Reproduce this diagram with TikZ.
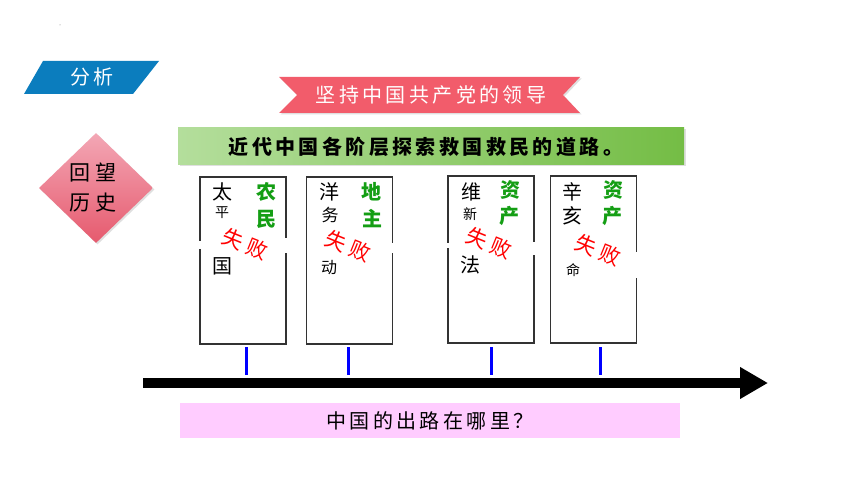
\documentclass[tikz,border=0pt]{standalone}
\usepackage{fontspec}
\newfontfamily\cjk{Noto Sans CJK SC}
\usetikzlibrary{shapes.geometric,shadows,arrows.meta}
\definecolor{bluetag}{HTML}{0B7DBE}
\definecolor{redban}{HTML}{F25C6B}
\definecolor{greenL}{HTML}{B4DE9C}
\definecolor{greenR}{HTML}{74BD45}
\definecolor{pinkq}{HTML}{FFCCFF}
\definecolor{diaT}{HTML}{F3A7B5}
\definecolor{diaB}{HTML}{E65A6E}
\definecolor{agreen}{HTML}{149E14}
\definecolor{boxline}{HTML}{333333}
\tikzset{
  big/.style={font=\cjk\fontsize{20}{20}\selectfont, inner sep=0pt},
  small/.style={font=\cjk\fontsize{14}{14}\selectfont, inner sep=0pt},
  mid/.style={font=\cjk\fontsize{16}{16}\selectfont, inner sep=0pt},
  gr/.style={font=\cjk\bfseries\fontsize{20}{20}\selectfont, text=agreen, inner sep=0pt},
  fail/.style={font=\cjk\fontsize{21}{21}\selectfont, text=red, inner sep=0pt, rotate=-22},
  eventbox/.style={draw=boxline, line width=1.3pt, fill=white, minimum width=86pt, minimum height=167pt, inner sep=0pt},
  tick/.style={draw=blue, line width=3pt},
  gap/.style={draw=white, line width=3pt},
  spaced/.style={font=\cjk\fontsize{20}{20}\selectfont\addfontfeature{LetterSpace=17}},
  shade/.style={drop shadow={shadow xshift=1.5pt, shadow yshift=-1.5pt, opacity=0.25}}
}
\begin{document}
\begin{tikzpicture}[x=1pt,y=-1pt]
\useasboundingbox (0,0) rectangle (860,484);
\fill[white] (0,0) rectangle (860,484);
\fill[gray] (60,25) circle (0.5pt);
% analysis tag
\fill[bluetag] (24,94) -- (43,61) -- (159,61) -- (133,94) -- cycle;
\node[font=\cjk\fontsize{20}{20}\selectfont\addfontfeature{LetterSpace=15}, text=white] (tag) at (92,77) {分析};
% diamond
\node[diamond, aspect=1, minimum width=114pt, minimum height=110pt, inner sep=0pt, top color=diaT, bottom color=diaB, shade] (dia) at (96,188) {};
\node[font=\cjk\fontsize{21}{21}\selectfont, inner sep=0pt] (dia1) at (93,173) {回\hspace{5pt}望};
\node[font=\cjk\fontsize{21}{21}\selectfont, inner sep=0pt] (dia2) at (93,203) {历\hspace{5pt}史};
% banner
\fill[redban, shade] (279,77) -- (580,77) -- (563,95) -- (580,113) -- (279,113) -- (297,95) -- cycle;
\node[spaced, text=white] (ban) at (431,95) {坚持中国共产党的领导};
% green bar
\node[left color=greenL, right color=greenR, minimum width=506pt, minimum height=37pt, inner sep=0pt, shade] (bar) at (431,146.5) {};
\node[font=\cjk\bfseries\fontsize{20}{20}\selectfont\addfontfeature{LetterSpace=17}] (bartext) at (426,147) {近代中国各阶层探索救国救民的道路。};
% boxes
\node[eventbox] (b1) at (243,260.5) {};
\node[eventbox] (b2) at (349.5,260.5) {};
\node[eventbox] (b3) at (491,259.5) {};
\node[eventbox] (b4) at (593.5,259.5) {};
% box 1
\node[big] (t1a) at (222,192) {太};
\node[small] (t1b) at (222,213) {平};
\node[big] (t1c) at (222,266) {国};
\node[gr] (g1a) at (266,192) {农};
\node[gr] (g1b) at (266,219) {民};
% box 2
\node[big] (t2a) at (329,192) {洋};
\node[big, font=\cjk\fontsize{17}{17}\selectfont] (t2b) at (330,215) {务};
\node[mid] (t2c) at (329,268) {动};
\node[gr] (g2a) at (371,192) {地};
\node[gr] (g2b) at (372,219) {主};
% box 3
\node[big] (t3a) at (471,192) {维};
\node[small] (t3b) at (470,214) {新};
\node[big] (t3c) at (470,265) {法};
\node[gr] (g3a) at (510,190) {资};
\node[gr] (g3b) at (509,216) {产};
% box 4
\node[big] (t4a) at (572,192) {辛};
\node[big] (t4b) at (572,216) {亥};
\node[small] (t4c) at (573,270) {命};
\node[gr] (g4a) at (613,190) {资};
\node[gr] (g4b) at (612,216) {产};
% border gaps
\draw[gap] (b1.west |- 0,241) -- (b1.west |- 0,249);
\draw[gap] (b1.east |- 0,238) -- (b1.east |- 0,253);
\draw[gap] (b2.east |- 0,243) -- (b2.east |- 0,253);
\draw[gap] (b3.west |- 0,243) -- (b3.west |- 0,248);
\draw[gap] (b3.east |- 0,242) -- (b3.east |- 0,255);
\draw[gap] (b4.east |- 0,252) -- (b4.east |- 0,278);
% fail stamps
\node[fail] (f1) at (245,244) {失\hspace{5pt}败};
\node[fail] (f2) at (348,246) {失\hspace{5pt}败};
\node[fail] (f3) at (489,243) {失\hspace{5pt}败};
\node[fail] (f4) at (598,250) {失\hspace{5pt}败};
% timeline
\coordinate (a0) at (143,383);
\coordinate (a1) at (768,383);
\draw[line width=10pt, -{Triangle[length=28pt,width=30pt]}] (a0) -- (a1);
\draw[tick] (246,347) -- (246,375);
\draw[tick] (348,347) -- (348,375);
\draw[tick] (491,347) -- (491,375);
\draw[tick] (600,347) -- (600,375);
% question
\node[fill=pinkq, minimum width=500pt, minimum height=35pt, inner sep=0pt] (q) at (430,420.5) {};
\node[spaced] (qtext) at (430,421) {中国的出路在哪里？};
\end{tikzpicture}
\end{document}
